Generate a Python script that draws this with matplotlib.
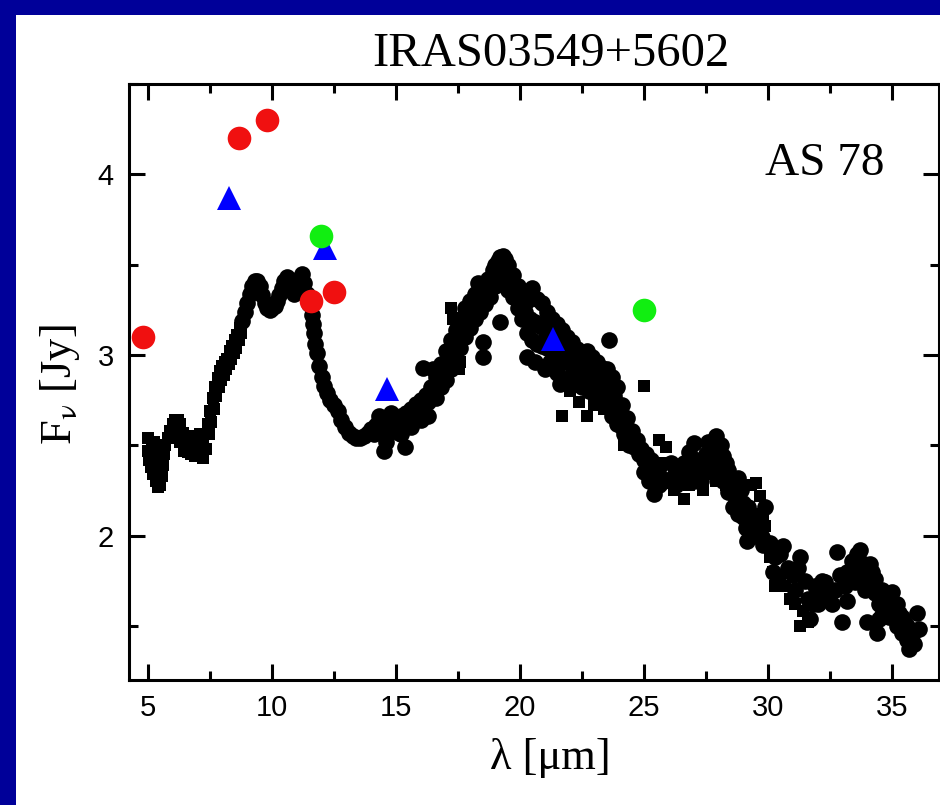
import matplotlib
matplotlib.use('Agg')
from matplotlib import pyplot as plt
from matplotlib.patches import Rectangle
from matplotlib.ticker import MultipleLocator

plt.rcParams['font.family'] = ['Liberation Sans', 'DejaVu Sans']
plt.rcParams['mathtext.fontset'] = 'stix'

# spectrum, circles (wavelength in micron, flux in Jy)
circ_wl = [8.8, 8.9, 9.0, 9.1, 9.2, 9.3, 9.4, 9.5, 9.6, 9.7,
           9.8, 9.9, 10.0, 10.1, 10.2, 10.3, 10.4, 10.5, 10.6, 10.7,
           10.8, 10.9, 11.0, 11.1, 11.2, 11.3, 11.4, 11.5, 11.6, 11.65,
           11.7, 11.75, 11.8, 11.9, 12.0, 12.1, 12.2, 12.35, 12.5, 12.65,
           12.8, 12.95, 13.1, 13.25, 13.4, 13.55, 13.7, 13.85, 14.0, 14.1,
           14.2, 14.3, 14.4, 14.5, 14.5, 14.6, 14.7, 14.8, 14.9, 15.0,
           15.1, 15.2, 15.3, 15.35, 15.4, 15.5, 15.6, 15.7, 15.8, 15.9,
           16.0, 16.1, 16.1, 16.2, 16.3, 16.4, 16.5, 16.5, 16.6, 16.6,
           16.8, 16.8, 17.0, 17.0, 17.2, 17.2, 17.4, 17.4, 17.6, 17.6,
           17.8, 17.8, 18.0, 18.0, 18.2, 18.2, 18.3, 18.4, 18.5, 18.5,
           18.5, 18.6, 18.7, 18.75, 18.8, 18.9, 19.0, 19.0, 19.1, 19.2,
           19.2, 19.2, 19.3, 19.4, 19.5, 19.5, 19.7, 19.7, 19.9, 19.9,
           20.1, 20.1, 20.3, 20.3, 20.3, 20.5, 20.5, 20.6, 20.7, 20.7,
           20.9, 20.9, 21.1, 21.1, 21.2, 21.3, 21.3, 21.5, 21.5, 21.5,
           21.7, 21.7, 21.9, 21.9, 21.9, 22.1, 22.1, 22.2, 22.3, 22.3,
           22.5, 22.5, 22.5, 22.7, 22.7, 22.8, 22.9, 22.9, 23.1, 23.1,
           23.1, 23.3, 23.3, 23.4, 23.5, 23.5, 23.6, 23.7, 23.7, 23.7,
           23.9, 23.9, 23.9, 24.1, 24.1, 24.3, 24.3, 24.5, 24.6, 24.7,
           24.8, 24.9, 25.0, 25.1, 25.2, 25.3, 25.4, 25.4, 25.5, 25.6,
           25.7, 25.8, 26.0, 26.2, 26.4, 26.6, 26.8, 26.9, 27.0, 27.1,
           27.2, 27.3, 27.5, 27.6, 27.8, 27.9, 28.0, 28.1, 28.2, 28.3,
           28.4, 28.5, 28.6, 28.6, 28.7, 28.8, 28.9, 29.0, 29.0, 29.1,
           29.15, 29.3, 29.4, 29.9, 30.1, 30.3, 30.6, 30.8, 31.0, 31.3,
           31.5, 31.6, 31.7, 31.9, 32.1, 32.3, 32.5, 32.6, 32.8, 32.9,
           33.0, 33.1, 33.3, 33.4, 33.5, 33.6, 33.7, 33.8, 33.9, 34.0,
           34.0, 34.1, 34.2, 34.3, 34.4, 34.5, 34.6, 34.7, 34.8, 34.9,
           35.0, 35.1, 35.2, 35.3, 35.4, 35.5, 35.6, 35.7, 35.8, 36.0,
           36.1, 29.6, 29.75, 32.0, 32.4, 33.2, 34.6, 14.3, 14.8, 15.2,
           15.6, 16.0, 16.3, 16.9, 17.1, 17.3, 17.5, 17.7, 17.9, 18.1,
           18.3, 18.5, 18.7, 18.9, 19.1, 19.6, 19.8, 20.0, 20.2, 20.4,
           20.6, 20.8, 21.0, 21.2, 21.4, 21.6, 21.8, 22.0, 22.2, 22.4,
           22.6, 22.8, 23.0, 23.2, 23.4, 23.6, 23.8, 24.0, 21.0, 21.6,
           22.0, 22.6, 23.2, 24.0, 24.2, 24.4, 25.0, 25.2, 25.6, 26.1,
           26.3, 26.7, 27.0, 27.4, 27.7, 28.0, 28.2, 28.4, 28.8, 29.2,
           29.5, 29.8, 30.2, 30.4, 30.5, 31.1, 31.2, 31.8, 32.2, 32.7,
           33.2, 33.5, 33.9, 34.3, 34.5, 34.8, 35.0, 35.2, 35.4, 35.6,
           35.9]
circ_flux = [3.19, 3.24, 3.29, 3.34, 3.38, 3.41, 3.41, 3.38, 3.33, 3.29,
             3.26, 3.25, 3.26, 3.27, 3.30, 3.33, 3.37, 3.41, 3.43, 3.41,
             3.36, 3.34, 3.37, 3.42, 3.45, 3.40, 3.34, 3.28, 3.22, 3.17,
             3.12, 3.06, 3.01, 2.94, 2.88, 2.83, 2.79, 2.75, 2.72, 2.69,
             2.64, 2.60, 2.57, 2.55, 2.54, 2.54, 2.55, 2.57, 2.59, 2.56,
             2.61, 2.58, 2.63, 2.60, 2.47, 2.52, 2.62, 2.58, 2.65, 2.61,
             2.57, 2.66, 2.62, 2.49, 2.68, 2.64, 2.70, 2.66, 2.73, 2.69,
             2.75, 2.93, 2.71, 2.78, 2.74, 2.82, 2.92, 2.78, 2.88, 2.76,
             2.95, 2.82, 3.02, 2.86, 3.08, 2.92, 3.14, 2.98, 3.20, 3.04,
             3.26, 3.10, 3.30, 3.15, 3.34, 3.20, 3.40, 3.24, 3.38, 3.07,
             2.99, 3.28, 3.42, 3.34, 3.32, 3.47, 3.50, 3.38, 3.52, 3.54,
             3.43, 3.18, 3.55, 3.53, 3.50, 3.36, 3.44, 3.32, 3.38, 3.26,
             3.33, 3.20, 3.30, 3.12, 2.99, 3.37, 3.08, 2.96, 3.31, 3.06,
             3.29, 3.05, 3.24, 3.04, 2.96, 3.20, 3.02, 3.17, 3.00, 2.90,
             3.14, 2.98, 3.10, 2.96, 2.86, 3.07, 2.94, 2.84, 3.03, 2.92,
             3.00, 2.90, 2.82, 3.02, 2.89, 2.80, 2.99, 2.88, 2.96, 2.86,
             2.79, 2.93, 2.84, 2.76, 2.92, 2.80, 3.08, 2.88, 2.75, 2.66,
             2.82, 2.70, 2.62, 2.72, 2.60, 2.65, 2.55, 2.58, 2.49, 2.53,
             2.45, 2.48, 2.42, 2.45, 2.38, 2.42, 2.30, 2.23, 2.35, 2.28,
             2.32, 2.30, 2.31, 2.33, 2.35, 2.40, 2.46, 2.38, 2.51, 2.42,
             2.36, 2.30, 2.45, 2.52, 2.50, 2.55, 2.46, 2.50, 2.44, 2.40,
             2.36, 2.30, 2.24, 2.16, 2.20, 2.32, 2.25, 2.18, 2.10, 2.04,
             1.97, 2.12, 2.06, 2.16, 1.96, 1.88, 1.94, 1.82, 1.78, 1.88,
             1.75, 1.65, 1.54, 1.72, 1.68, 1.74, 1.70, 1.62, 1.91, 1.78,
             1.52, 1.72, 1.80, 1.86, 1.74, 1.90, 1.92, 1.85, 1.80, 1.52,
             1.72, 1.84, 1.80, 1.68, 1.46, 1.62, 1.70, 1.58, 1.66, 1.55,
             1.69, 1.60, 1.50, 1.57, 1.46, 1.52, 1.42, 1.37, 1.45, 1.57,
             1.48, 2.02, 1.99, 1.62, 1.66, 1.64, 1.56, 2.66, 2.68, 2.56,
             2.60, 2.64, 2.66, 2.88, 2.96, 3.03, 3.09, 3.15, 3.20, 3.25,
             3.30, 3.33, 3.36, 3.40, 3.45, 3.40, 3.34, 3.27, 3.24, 3.20,
             3.18, 3.16, 3.14, 3.12, 3.09, 3.07, 3.04, 3.01, 2.99, 2.97,
             2.95, 2.93, 2.91, 2.89, 2.86, 2.82, 2.77, 2.72, 2.92, 2.84,
             2.88, 2.85, 2.78, 2.62, 2.56, 2.50, 2.35, 2.30, 2.38, 2.40,
             2.28, 2.30, 2.30, 2.38, 2.40, 2.35, 2.30, 2.24, 2.12, 2.16,
             2.00, 1.95, 1.80, 1.74, 1.90, 1.70, 1.82, 1.62, 1.75, 1.70,
             1.80, 1.84, 1.70, 1.76, 1.54, 1.58, 1.60, 1.62, 1.55, 1.50,
             1.40]

# spectrum, squares
sq_wl = [5.0, 5.0, 5.05, 5.1, 5.2, 5.3, 5.4, 5.5, 5.55, 5.6,
         5.65, 5.7, 5.25, 5.45, 5.35, 5.8, 5.9, 6.0, 6.1, 6.2,
         6.3, 6.4, 6.1, 6.3, 6.5, 6.6, 6.6, 6.75, 6.75, 6.9,
         6.9, 7.05, 7.05, 7.2, 7.2, 7.3, 7.4, 7.5, 7.6, 7.7,
         7.8, 7.9, 8.0, 8.1, 8.2, 8.3, 8.4, 8.5, 8.6, 8.7,
         5.15, 5.3, 5.5, 5.6, 7.35, 7.45, 7.55, 7.65, 7.75, 7.85,
         7.95, 8.05, 8.15, 8.25, 8.35, 8.45, 8.55, 8.65, 8.75, 6.0,
         6.2, 6.45, 6.85, 7.15, 7.1,
         16.8, 17.0, 17.2, 17.3, 17.5, 17.6, 17.55, 17.7, 17.9, 18.1,
         18.4, 19.0, 20.2, 21.0, 21.4, 21.7, 22.0, 22.4, 22.7, 23.0,
         23.4, 24.2, 25.0, 25.6, 25.9, 25.8, 26.0, 26.2, 26.3, 26.5,
         26.6, 26.8, 27.1, 27.4, 27.6, 27.9, 28.3, 29.3, 29.5, 29.7,
         29.8, 29.9, 30.1, 30.2, 30.3, 30.5, 30.7, 30.9, 31.1, 31.3,
         31.4, 31.6]
sq_flux = [2.54, 2.47, 2.42, 2.38, 2.34, 2.30, 2.27, 2.28, 2.33, 2.39,
           2.45, 2.50, 2.52, 2.50, 2.45, 2.54, 2.58, 2.62, 2.64, 2.64,
           2.62, 2.57, 2.55, 2.52, 2.52, 2.55, 2.46, 2.53, 2.45, 2.54,
           2.44, 2.52, 2.44, 2.50, 2.43, 2.56, 2.62, 2.69, 2.76, 2.82,
           2.87, 2.91, 2.94, 2.96, 2.98, 3.02, 3.05, 3.08, 3.11, 3.15,
           2.50, 2.40, 2.38, 2.48, 2.48, 2.56, 2.63, 2.70, 2.77, 2.82,
           2.86, 2.89, 2.92, 2.95, 2.98, 3.01, 3.04, 3.08, 3.12, 2.55,
           2.56, 2.47, 2.49, 2.47, 2.56,
           2.85, 2.90, 3.26, 3.20, 3.16, 2.96, 2.92, 3.12, 3.14, 3.22,
           3.28, 3.42, 3.20, 3.10, 3.06, 2.66, 2.80, 2.74, 2.66, 2.72,
           2.70, 2.50, 2.83, 2.53, 2.49, 2.40, 2.30, 2.25, 2.38, 2.30,
           2.20, 2.28, 2.32, 2.25, 2.34, 2.30, 2.28, 2.28, 2.29, 2.22,
           2.12, 2.05, 1.88, 1.80, 1.72, 1.78, 1.72, 1.65, 1.62, 1.50,
           1.58, 1.52]

# photometry
red_wl = [4.8, 8.67, 9.8, 11.57, 12.5]
red_flux = [3.10, 4.20, 4.30, 3.30, 3.35]
green_wl = [11.98, 25.0]
green_flux = [3.66, 3.25]
blue_wl = [8.27, 12.14, 14.64, 21.33]
blue_flux = [3.87, 3.59, 2.81, 3.09]

fig = plt.figure(figsize=(9.4, 8.05), dpi=100, facecolor='#000099')
fig.add_artist(Rectangle((16 / 940, 0), 1, 1 - 15 / 805, transform=fig.transFigure,
                         facecolor='white', edgecolor='none', zorder=-1))
ax = fig.add_axes([129 / 940, 1 - 680 / 805, 810 / 940, 596 / 805])

ax.plot(sq_wl, sq_flux, 's', color='black', ms=8.5, mew=0, zorder=2)
ax.plot(circ_wl, circ_flux, 'o', color='black', ms=12, mew=0, zorder=2)
ax.plot(blue_wl, blue_flux, '^', color='#0000ff', ms=17, mew=0, zorder=3)
ax.plot(red_wl, red_flux, 'o', color='#f01010', ms=17, mew=0, zorder=3, clip_on=False)
ax.plot(green_wl, green_flux, 'o', color='#11ee11', ms=17, mew=0, zorder=4)

ax.set_xlim(4.23, 36.9)
ax.set_ylim(1.2, 4.5)
ax.xaxis.set_major_locator(MultipleLocator(5))
ax.xaxis.set_minor_locator(MultipleLocator(2.5))
ax.yaxis.set_major_locator(MultipleLocator(1))
ax.yaxis.set_minor_locator(MultipleLocator(0.5))
ax.tick_params(which='both', direction='in', top=True, right=True, width=2.2,
               labelsize=21)
ax.tick_params(which='major', length=11.5)
ax.tick_params(which='minor', length=6.5)
ax.tick_params(axis='x', pad=10)
ax.tick_params(axis='y', pad=11)
for s in ax.spines.values():
    s.set_linewidth(2.2)

ax.text(0.933, 0.847, 'AS 78', transform=ax.transAxes, ha='right', va='baseline',
        fontsize=34, family='Liberation Serif')
fig.text(551 / 940, 1 - 66 / 805, 'IRAS03549+5602', ha='center', va='baseline',
         fontsize=35, family='Liberation Serif')
fig.text(550 / 940, 1 - 758 / 805, 'λ [μm]', ha='center', va='center',
         fontsize=32, family='Liberation Serif')
fig.text(60 / 940, 1 - 385 / 805, r'F$_\mathrm{\nu}$ [Jy]', ha='center', va='center',
         rotation=90, fontsize=32, family='Liberation Serif')

fig.savefig('out.png', dpi=100, facecolor=fig.get_facecolor())
